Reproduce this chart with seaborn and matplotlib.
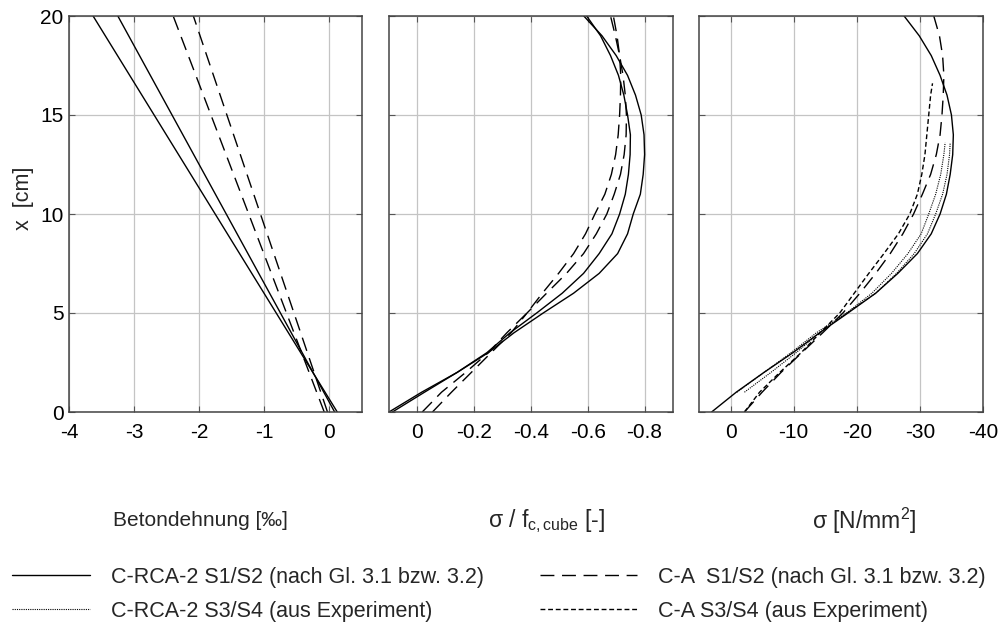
import numpy as np
import pandas as pd
import matplotlib
matplotlib.use("Agg")
import matplotlib.pyplot as plt
from matplotlib.lines import Line2D
import seaborn as sns

# ---------------------------------------------------------------------------
# Data
# ---------------------------------------------------------------------------
# panel 1: strain distribution, straight lines between x = 0 and x = 20 cm
strain_depth = [0, 20]
strain_rca_1 = [0.12, -3.63]
strain_rca_2 = [0.08, -3.25]
strain_ca_1 = [-0.08, -2.40]
strain_ca_2 = [-0.03, -2.09]

depth = [0, 1, 2, 3, 4, 5, 6, 7, 8, 9, 10, 11, 12, 13, 14, 15, 16, 17, 18, 19, 20]

# panel 2: sigma / f_c,cube
rel_rca_1 = [0.088, -0.025, -0.14, -0.25, -0.34, -0.443, -0.55, -0.64, -0.705, -0.74, -0.76,
             -0.785, -0.795, -0.80, -0.798, -0.788, -0.768, -0.74, -0.70, -0.65, -0.586]
rel_rca_2 = [0.10, -0.015, -0.14, -0.245, -0.326, -0.42, -0.51, -0.585, -0.64, -0.685, -0.712,
             -0.732, -0.743, -0.749, -0.75, -0.74, -0.727, -0.708, -0.68, -0.645, -0.596]
rel_ca_1 = [-0.053, -0.12, -0.19, -0.26, -0.33, -0.386, -0.455, -0.525, -0.585, -0.63, -0.667,
            -0.693, -0.715, -0.728, -0.735, -0.736, -0.732, -0.724, -0.712, -0.697, -0.68]
rel_ca_2 = [-0.017, -0.085, -0.17, -0.25, -0.315, -0.386, -0.44, -0.497, -0.55, -0.592, -0.625,
            -0.66, -0.683, -0.698, -0.707, -0.712, -0.715, -0.716, -0.712, -0.703, -0.69]

# panel 3: sigma [N/mm2]
sig_rca = [3.0, -0.9, -5.3, -9.9, -14.1, -18.6, -23.0, -26.5, -29.6, -31.8, -33.2,
           -34.2, -34.8, -35.2, -35.3, -35.0, -34.3, -33.2, -31.8, -29.9, -27.5]
sig_ca = [-2.2, -5.0, -8.0, -11.3, -14.6, -17.8, -20.5, -23.0, -25.3, -27.3, -29.0,
          -30.4, -31.7, -32.6, -33.2, -33.5, -33.7, -33.8, -33.6, -33.1, -32.2]

exp_ca_depth = [0, 1, 2, 3, 4, 5, 6, 7, 8, 9, 10, 11, 12, 13, 14, 15, 16, 16.6]
exp_ca = [-2.2, -4.6, -7.8, -11.2, -14.2, -17.3, -19.6, -21.9, -24.3, -26.6, -28.4,
          -29.6, -30.3, -30.8, -31.1, -31.4, -31.7, -32.0]

exp_rca_depth = [1, 2, 3, 4, 5, 6, 7, 8, 9, 10, 11, 12, 13, 13.6]
exp_rca_1 = [-1.0, -5.3, -9.6, -13.6, -18.4, -23.0, -26.3, -29.1, -31.2, -32.5, -33.6, -34.3, -34.7, -34.8]
exp_rca_2 = [-2.2, -6.4, -10.4, -14.1, -18.4, -22.4, -25.5, -28.1, -30.2, -31.4, -32.5, -33.3, -33.8, -34.0]

legend_labels_rca = ["C-RCA-2 S1/S2 (nach Gl. 3.1 bzw. 3.2)", "C-RCA-2 S3/S4 (aus Experiment)"]
legend_labels_ca = ["C-A  S1/S2 (nach Gl. 3.1 bzw. 3.2)", "C-A S3/S4 (aus Experiment)"]

# ---------------------------------------------------------------------------
# Style
# ---------------------------------------------------------------------------
sns.set_theme(style="whitegrid")
plt.rcParams["font.family"] = ["Liberation Sans", "DejaVu Sans"]
plt.rcParams["mathtext.fontset"] = "custom"
plt.rcParams["mathtext.rm"] = "Liberation Sans"
plt.rcParams["mathtext.it"] = "Liberation Sans:italic"

SOLID = dict(color="black", lw=1.0, linestyle="-")
LONG_DASH = dict(color="black", lw=1.0, linestyle=(0, (10, 5.5)))
SHORT_DASH = dict(color="black", lw=1.0, linestyle=(0, (3.5, 2)))
DOTTED = dict(color="black", lw=0.8, linestyle=(0, (1, 1)))

W, H = 999, 628
fig = plt.figure(figsize=(W / 100, H / 100), dpi=100)


def px_axes(left, top, right, bottom):
    return fig.add_axes([left / W, 1 - bottom / H, (right - left) / W, (bottom - top) / H])


ax1 = px_axes(69, 16, 362, 412)
ax2 = px_axes(389, 16, 673, 412)
ax3 = px_axes(699, 16, 983, 412)


def draw(ax, xs, ys, style):
    df = pd.DataFrame({"val": xs, "x": ys})
    sns.lineplot(data=df, x="val", y="x", orient="y", estimator=None, sort=True,
                 ax=ax, **style)


# panel 1
draw(ax1, strain_rca_1, strain_depth, SOLID)
draw(ax1, strain_rca_2, strain_depth, SOLID)
draw(ax1, strain_ca_1, strain_depth, LONG_DASH)
draw(ax1, strain_ca_2, strain_depth, LONG_DASH)

# panel 2
draw(ax2, rel_rca_1, depth, SOLID)
draw(ax2, rel_rca_2, depth, SOLID)
draw(ax2, rel_ca_1, depth, LONG_DASH)
draw(ax2, rel_ca_2, depth, LONG_DASH)

# panel 3
draw(ax3, sig_rca, depth, SOLID)
draw(ax3, sig_ca, depth, LONG_DASH)
draw(ax3, exp_ca, exp_ca_depth, SHORT_DASH)
draw(ax3, exp_rca_1, exp_rca_depth, DOTTED)
draw(ax3, exp_rca_2, exp_rca_depth, DOTTED)

ax1.set_xlim(-4, 0.5)
ax1.set_xticks([-4, -3, -2, -1, 0])
ax1.set_xticklabels(["-4", "-3", "-2", "-1", "0"])

ax2.set_xlim(0.1, -0.9)
ax2.set_xticks([0, -0.2, -0.4, -0.6, -0.8])
ax2.set_xticklabels(["0", "-0.2", "-0.4", "-0.6", "-0.8"])

ax3.set_xlim(5, -40)
ax3.set_xticks([0, -10, -20, -30, -40])
ax3.set_xticklabels(["0", "-10", "-20", "-30", "-40"])

for ax in (ax1, ax2, ax3):
    ax.set_ylim(0, 20)
    ax.set_yticks([0, 5, 10, 15, 20])
    ax.set_xlabel("")
    ax.set_ylabel("")
    ax.grid(True, color="#c4c4c4", lw=0.9)
    ax.set_axisbelow(True)
    ax.tick_params(axis="both", direction="in", length=4, width=0.8, color="#555555",
                   labelsize=15, labelcolor="black", top=True, right=True,
                   bottom=True, left=True)
    ax.tick_params(axis="x", pad=8)
    ax.tick_params(axis="y", pad=4)
    for sp in ax.spines.values():
        sp.set_color("#444444")
        sp.set_linewidth(1.1)

ax2.tick_params(axis="y", labelleft=False)
ax3.tick_params(axis="y", labelleft=False)
ax1.set_ylabel("x  [cm]", fontsize=15.5)
ax1.yaxis.set_label_coords(-0.118, 0.54)

# axis titles below the panels
fig.text(200 / W, 1 - 521 / H, "Betondehnung [‰]", fontsize=15, ha="center", va="center")
fig.text(547 / W, 1 - 521 / H, r"σ / f$_\mathrm{c,cube}$ [-]", fontsize=16.5, ha="center", va="center")
fig.text(864 / W, 1 - 521 / H, r"σ [N/mm$^\mathrm{2}$]", fontsize=16.5, ha="center", va="center")

# legend, one block per column
legend_kw = dict(loc="upper left", frameon=False, fontsize=15.5, handletextpad=1.0,
                 labelspacing=0.6, borderpad=0, borderaxespad=0)
fig.legend([Line2D([], [], **SOLID), Line2D([], [], **DOTTED)], legend_labels_rca,
           bbox_to_anchor=(12 / W, 1 - 567 / H), handlelength=3.6, **legend_kw)
fig.legend([Line2D([], [], **LONG_DASH), Line2D([], [], **SHORT_DASH)], legend_labels_ca,
           bbox_to_anchor=(540 / W, 1 - 567 / H), handlelength=4.5, **legend_kw)

fig.savefig("out.png", dpi=100, facecolor="white")
plt.close(fig)
